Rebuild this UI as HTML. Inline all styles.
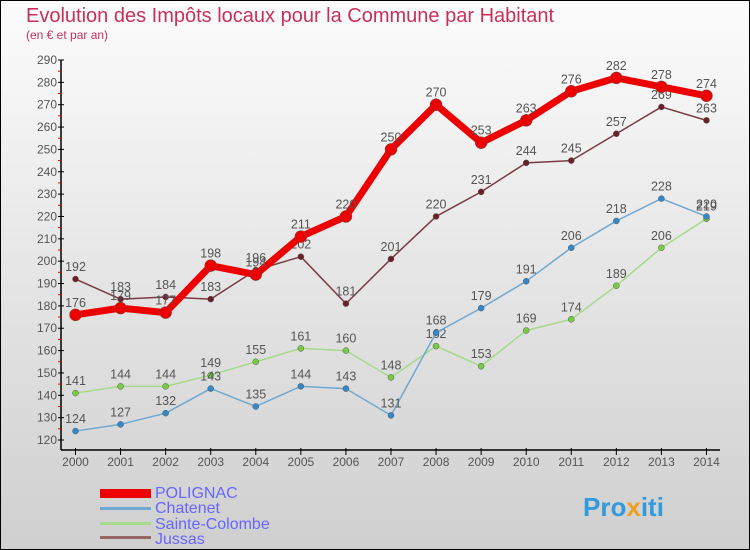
<!DOCTYPE html>
<html><head><meta charset="utf-8"><style>
body{margin:0}
#wrap{width:750px;height:550px;position:relative;overflow:hidden;font-family:"Liberation Sans",sans-serif}
svg text{font-family:"Liberation Sans",sans-serif}
</style></head><body>
<div id="wrap">
<svg id="c" width="750" height="550">
<defs><linearGradient id="bg" x1="0" y1="0" x2="0" y2="1"><stop offset="0" stop-color="#fcfcfc"/><stop offset="1" stop-color="#cfcfcf"/></linearGradient></defs>
<rect x="0.5" y="0.5" width="749" height="549" fill="url(#bg)" stroke="#000"/>
<text x="26" y="22" font-size="20" fill="#c8305a">Evolution des Impôts locaux pour la Commune par Habitant</text>
<text x="26" y="39" font-size="12" fill="#c8305a">(en € et par an)</text>
<g id="axes"></g><g id="series"></g>
<g>
<rect x="100" y="489" width="51" height="9" fill="#e00"/>
<text x="155" y="498" font-size="16" fill="#6666ff">POLIGNAC</text>
<rect x="100" y="507" width="51" height="3" fill="#6fa8d0"/>
<text x="155" y="513" font-size="16" fill="#6666ff">Chatenet</text>
<rect x="100" y="522" width="51" height="3" fill="#a6d98a"/>
<text x="155" y="529" font-size="16" fill="#6666ff">Sainte-Colombe</text>
<rect x="100" y="536" width="51" height="3" fill="#996666"/>
<text x="155" y="544" font-size="16" fill="#6666ff">Jussas</text>
</g>
<text x="583" y="516" font-size="26" font-weight="bold" fill="#3399dd">Pro<tspan fill="#f0a020">x</tspan>iti</text>
</svg></div>
<script>
const years=[2000,2001,2002,2003,2004,2005,2006,2007,2008,2009,2010,2011,2012,2013,2014];
const yTicks=[120,130,140,150,160,170,180,190,200,210,220,230,240,250,260,270,280,290];
const polignac=[176,179,177,198,194,211,220,250,270,253,263,276,282,278,274];
const chatenet=[124,127,132,143,135,144,143,131,168,179,191,206,218,228,220];
const sainteColombe=[141,144,144,149,155,161,160,148,162,153,169,174,189,206,219];
const jussas=[192,183,184,183,196,202,181,201,220,231,244,245,257,269,263];
const NS='http://www.w3.org/2000/svg';
const xS=i=>75.5+i*45.07;
const yS=v=>440-(v-120)*(380/170);
function mk(tag,attrs,parent){const e=document.createElementNS(NS,tag);for(const k in attrs)e.setAttribute(k,attrs[k]);parent.appendChild(e);return e;}
const ax=document.getElementById('axes');
let yl=mk('line',{x1:61,y1:yS(290),x2:61,y2:450,stroke:'#000','stroke-width':1.5},ax);


let xl=mk('line',{x1:61,y1:450,x2:720,y2:450,stroke:'#000','stroke-width':1.5},ax);


yTicks.forEach((v,i)=>{
  const y=yS(v);
  mk('line',{x1:58,y1:y,x2:64,y2:y,stroke:'#000'},ax);
  if(i<yTicks.length-1) mk('line',{x1:58,y1:y-11.2,x2:61,y2:y-11.2,stroke:'#e00'},ax);
  const t=mk('text',{x:57,y:y+4,'font-size':12,'text-anchor':'end',fill:'#555'},ax);
  t.textContent=v;
  
  
});
years.forEach((yr,i)=>{
  const x=xS(i);
  mk('line',{x1:x,y1:448,x2:x,y2:455,stroke:'#000'},ax);
  const t=mk('text',{x:x,y:466,'font-size':12,'text-anchor':'middle',fill:'#555'},ax);
  t.textContent=yr;
  
  
});
const sg=document.getElementById('series');
function draw(data,name,color,w,r,dot){
  const g=mk('g',{},sg);
  
  
  const pts=data.map((v,i)=>xS(i)+','+yS(v)).join(' ');
  mk('polyline',{points:pts,fill:'none',stroke:color,'stroke-width':w,'stroke-linejoin':'round'},g);
  data.forEach((v,i)=>{
    const c=mk('circle',{cx:xS(i),cy:yS(v),r:r,fill:dot,stroke:'#555','stroke-width':0.5},g);
    
    
    const t=mk('text',{x:xS(i),y:yS(v)-8,'font-size':12.5,'text-anchor':'middle',fill:'#555'},g);
    t.textContent=v;
    
    
  });
}
draw(jussas,'jussas','#7a3a44',1.5,3,'#6b1f2a');
draw(sainteColombe,'sainte-colombe','#a6d98a',1.5,3,'#77cc44');
draw(chatenet,'chatenet','#6fa8d0',1.5,3,'#3388cc');
draw(polignac,'polignac','#e00',7,6,'#e00');
</script>
</body></html>
